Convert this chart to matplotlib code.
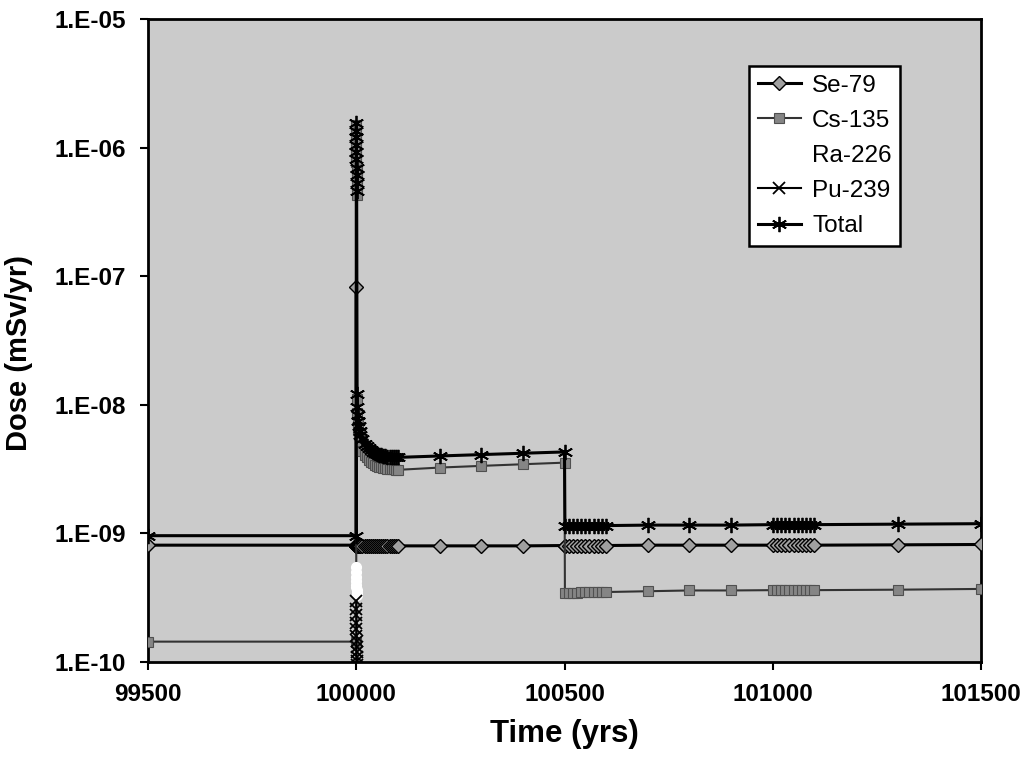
import numpy as np
import matplotlib
matplotlib.use("Agg")
import matplotlib.pyplot as plt
from matplotlib.ticker import FixedLocator, FixedFormatter

plt.rcParams['font.family'] = ['Liberation Sans', 'DejaVu Sans']

nan = np.nan

# ---------------- data ----------------
time = [99500, 100000,
        100000.1, 100000.2, 100000.3, 100000.4, 100000.5, 100000.6, 100000.7, 100000.8, 100000.9, 100001,
        100002, 100003, 100004, 100005, 100006, 100008, 100010,
        100015, 100020, 100025, 100030, 100035, 100040, 100045, 100050,
        100055, 100060, 100065, 100070, 100075, 100080, 100085, 100090, 100095, 100100,
        100200, 100300, 100400, 100500, 100501,
        100510, 100520, 100530, 100540, 100550, 100560, 100570, 100580, 100590, 100600,
        100700, 100800, 100900, 101000,
        101010, 101020, 101030, 101040, 101050, 101060, 101070, 101080, 101090, 101100,
        101300, 101500]

se79 = [8.1e-10, 8.1e-10,
        8.3e-8, 8.0e-10, 8.0e-10, 8.0e-10, 8.0e-10, 8.0e-10, 8.0e-10, 8.0e-10, 8.0e-10, 8.0e-10,
        8.0e-10, 8.0e-10, 8.0e-10, 8.0e-10, 8.0e-10, 8.0e-10, 8.0e-10,
        8.0e-10, 8.0e-10, 8.0e-10, 8.0e-10, 8.0e-10, 8.0e-10, 8.0e-10, 8.0e-10,
        8.0e-10, 8.0e-10, 8.0e-10, 8.0e-10, 8.0e-10, 8.0e-10, 8.0e-10, 8.0e-10, 8.0e-10, 8.0e-10,
        8.0e-10, 8.0e-10, 8.0e-10, 8.05e-10, 8.05e-10,
        8.05e-10, 8.05e-10, 8.05e-10, 8.05e-10, 8.05e-10, 8.05e-10, 8.05e-10, 8.05e-10, 8.05e-10, 8.05e-10,
        8.1e-10, 8.1e-10, 8.1e-10, 8.1e-10,
        8.1e-10, 8.1e-10, 8.1e-10, 8.1e-10, 8.1e-10, 8.1e-10, 8.1e-10, 8.1e-10, 8.1e-10, 8.1e-10,
        8.15e-10, 8.2e-10]

cs135 = [1.44e-10, 1.44e-10,
         1.5e-6, 1.3e-6, 1.15e-6, 1.0e-6, 8.8e-7, 7.7e-7, 6.7e-7, 5.8e-7, 5.0e-7, 4.3e-7,
         1.1e-8, 8.6e-9, 7.3e-9, 6.4e-9, 5.8e-9, 5.2e-9, 4.8e-9,
         4.4e-9, 4.1e-9, 3.9e-9, 3.75e-9, 3.6e-9, 3.5e-9, 3.42e-9, 3.36e-9,
         3.3e-9, 3.26e-9, 3.22e-9, 3.2e-9, 3.18e-9, 3.16e-9, 3.15e-9, 3.14e-9, 3.13e-9, 3.12e-9,
         3.25e-9, 3.35e-9, 3.45e-9, 3.55e-9, 3.45e-10,
         3.45e-10, 3.46e-10, 3.47e-10, 3.48e-10, 3.49e-10, 3.5e-10, 3.5e-10, 3.5e-10, 3.5e-10, 3.5e-10,
         3.55e-10, 3.6e-10, 3.6e-10, 3.62e-10,
         3.62e-10, 3.62e-10, 3.62e-10, 3.62e-10, 3.62e-10, 3.62e-10, 3.62e-10, 3.62e-10, 3.62e-10, 3.62e-10,
         3.65e-10, 3.7e-10]

ra226 = [nan, nan,
         5.5e-10, 5.0e-10, 4.6e-10, 4.3e-10, 4.0e-10, 3.8e-10, 3.6e-10, 3.5e-10, 3.4e-10, 3.3e-10,
         nan, nan, nan, nan, nan, nan, nan,
         nan, nan, nan, nan, nan, nan, nan, nan,
         nan, nan, nan, nan, nan, nan, nan, nan, nan, nan,
         nan, nan, nan, nan, nan,
         nan, nan, nan, nan, nan, nan, nan, nan, nan, nan,
         nan, nan, nan, nan,
         nan, nan, nan, nan, nan, nan, nan, nan, nan, nan,
         nan, nan]

pu239 = [nan, nan,
         3.0e-10, 2.6e-10, 2.3e-10, 2.0e-10, 1.8e-10, 1.6e-10, 1.45e-10, 1.3e-10, 1.2e-10, 1.1e-10,
         1.02e-10, 9.5e-11, nan, nan, nan, nan, nan,
         nan, nan, nan, nan, nan, nan, nan, nan,
         nan, nan, nan, nan, nan, nan, nan, nan, nan, nan,
         nan, nan, nan, nan, nan,
         nan, nan, nan, nan, nan, nan, nan, nan, nan, nan,
         nan, nan, nan, nan,
         nan, nan, nan, nan, nan, nan, nan, nan, nan, nan,
         nan, nan]

total = [9.6e-10, 9.6e-10,
         1.55e-6, 1.35e-6, 1.2e-6, 1.05e-6, 9.2e-7, 8.1e-7, 7.0e-7, 6.1e-7, 5.3e-7, 4.6e-7,
         1.22e-8, 9.7e-9, 8.4e-9, 7.5e-9, 6.9e-9, 6.2e-9, 5.8e-9,
         5.4e-9, 5.0e-9, 4.8e-9, 4.6e-9, 4.45e-9, 4.3e-9, 4.2e-9, 4.15e-9,
         4.1e-9, 4.05e-9, 4.0e-9, 3.98e-9, 3.95e-9, 3.93e-9, 3.92e-9, 3.91e-9, 3.9e-9, 3.9e-9,
         4.0e-9, 4.1e-9, 4.2e-9, 4.3e-9, 1.15e-9,
         1.15e-9, 1.15e-9, 1.15e-9, 1.15e-9, 1.15e-9, 1.15e-9, 1.15e-9, 1.15e-9, 1.15e-9, 1.15e-9,
         1.16e-9, 1.16e-9, 1.16e-9, 1.17e-9,
         1.17e-9, 1.17e-9, 1.17e-9, 1.17e-9, 1.17e-9, 1.17e-9, 1.17e-9, 1.17e-9, 1.17e-9, 1.17e-9,
         1.18e-9, 1.19e-9]

series_names = ['Se-79', 'Cs-135', 'Ra-226', 'Pu-239', 'Total']

x_ticks = [99500, 100000, 100500, 101000, 101500]
x_ticklabels = ['99500', '100000', '100500', '101000', '101500']
y_ticks = [1e-10, 1e-9, 1e-8, 1e-7, 1e-6, 1e-5]
y_ticklabels = ['1.E-10', '1.E-09', '1.E-08', '1.E-07', '1.E-06', '1.E-05']

# ---------------- figure ----------------
fig = plt.figure(figsize=(10.29, 7.58), dpi=100)
ax = fig.add_axes([148/1029, 1 - 662/758, (981-148)/1029, (662-19)/758])
ax.set_facecolor('#cbcbcb')

ax.plot(time, se79, color='black', lw=2.2, marker='D', ms=7,
        mfc='#a0a0a0', mec='black', mew=1.0, label=series_names[0], zorder=3)
ax.plot(time, cs135, color='#333333', lw=1.5, marker='s', ms=7,
        mfc='#858585', mec='#505050', mew=0.8, label=series_names[1], zorder=3)
ax.plot(time, ra226, color='white', lw=2.0, marker='o', ms=7,
        mfc='white', mec='white', label=series_names[2], zorder=4)
ax.plot(time, pu239, color='black', lw=1.5, marker='x', ms=8, mew=1.3,
        mec='black', label=series_names[3], zorder=5)
ax.plot(time, total, color='black', lw=2.2, marker=(6, 2, 0), ms=11, mew=1.3,
        mec='black', label=series_names[4], zorder=5)

ax.set_yscale('log')
ax.set_xlim(99500, 101500)
ax.set_ylim(1e-10, 1e-5)

ax.xaxis.set_major_locator(FixedLocator(x_ticks))
ax.xaxis.set_major_formatter(FixedFormatter(x_ticklabels))
ax.yaxis.set_major_locator(FixedLocator(y_ticks))
ax.yaxis.set_major_formatter(FixedFormatter(y_ticklabels))
ax.yaxis.set_minor_locator(FixedLocator([]))

ax.tick_params(axis='both', direction='out', length=6, width=1.5, colors='black')
ax.tick_params(axis='x', pad=9, labelsize=17.5)
ax.tick_params(axis='y', pad=10, labelsize=17.5)
for lab in ax.get_xticklabels() + ax.get_yticklabels():
    lab.set_fontweight('bold')

for s in ax.spines.values():
    s.set_color('black')
    s.set_linewidth(2.0)

ax.set_xlabel('Time (yrs)', fontsize=22.5, fontweight='bold')
ax.set_ylabel('Dose (mSv/yr)', fontsize=21, fontweight='bold')
ax.xaxis.set_label_coords(0.5, -0.088)
ax.yaxis.set_label_coords(-0.138, 0.48)

leg = ax.legend(loc='upper left', bbox_to_anchor=((749-148)/833, (662-66)/643),
                fontsize=17.5, frameon=True, fancybox=False, shadow=False,
                handlelength=1.8, handletextpad=0.45, borderpad=0.35,
                labelspacing=0.54, borderaxespad=0.0)
leg.get_frame().set_edgecolor('black')
leg.get_frame().set_linewidth(1.8)
leg.get_frame().set_facecolor('white')
leg.get_frame().set_alpha(1.0)

fig.savefig('out.png', dpi=100)
